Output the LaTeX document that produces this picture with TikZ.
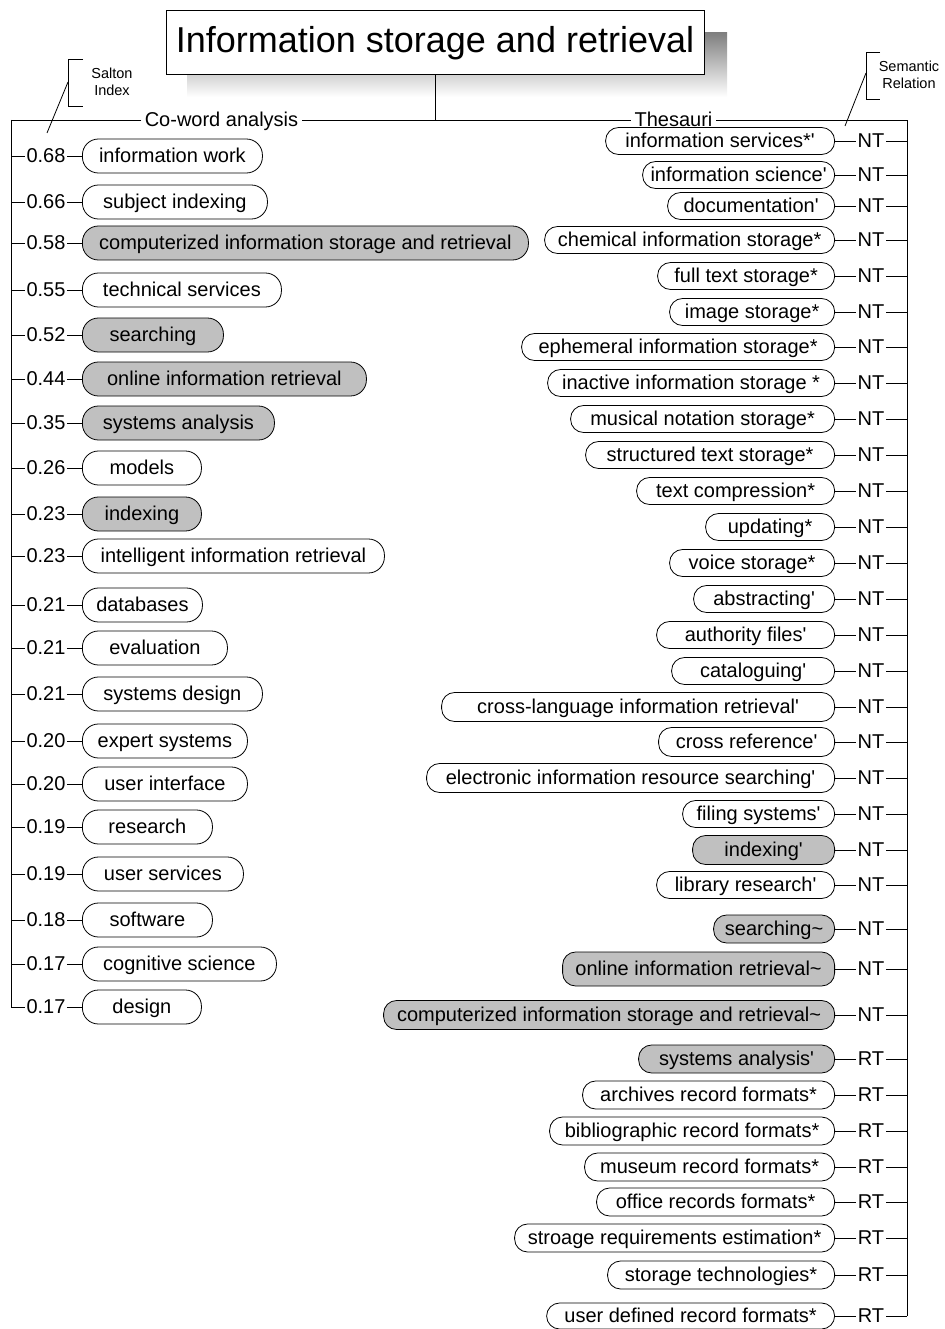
\documentclass[tikz,border=0pt]{standalone}
\usepackage{fontspec}
\newfontfamily\lib{Liberation Sans}
\definecolor{shade}{HTML}{C0C0C0}
\begin{document}
\begin{tikzpicture}[x=1pt,y=-1pt, line width=0.8pt,
  txt/.style={font=\lib\fontsize{20}{24}\selectfont, text height=14.5pt, text depth=1pt},
  lpill/.style={txt, draw, rounded corners=16pt, anchor=west, inner sep=0pt},
  rpill/.style={txt, draw, rounded corners=13pt, anchor=east, inner sep=0pt},
  numlab/.style={txt, inner sep=1pt},
  rellab/.style={txt, inner sep=1.5pt},
  headlab/.style={txt, inner sep=3pt},
  note/.style={align=center, inner sep=0pt, font=\lib\fontsize{14.5}{17}\selectfont}]
\useasboundingbox (0,0) rectangle (944,1329);
% title with shadow
\fill[shade] (187,33) rectangle (727,97);
\node[draw, fill=white, minimum width=538pt, minimum height=64pt, inner sep=0pt,
      text height=26pt, text depth=5pt,
      font=\lib\fontsize{36}{40}\selectfont] (title) at (435,42.5) {Information storage and retrieval};
% branch heads
\node[headlab] (cw) at (221.5,120) {Co-word analysis};
\node[headlab] (th) at (673.5,120) {Thesauri};
\coordinate (J) at (435,120);
\coordinate (LT) at (11,120);
\coordinate (RT) at (907,120);
\draw (title.south) -- (J) -- (cw.east);
\draw (cw.west) -- (LT);
\draw (J) -- (th.west);
% callouts
\draw (83,59) -- (68,59) -- (68,106) -- (83,106);
\draw (68,82) -- (47,133);
\node[note] (salton) at (112,81.5) {Salton\\Index};
\draw (880,52) -- (866,52) -- (866,99) -- (880,99);
\draw (866,73) -- (845,126);
\node[note] (semrel) at (909,75) {Semantic\\Relation};
% left list
\foreach \n/\y/\rx/\v/\tx/\fc in {
  1/156/262/0.68/information work/white,
  2/202/267/0.66/subject indexing/white,
  3/243/528/0.58/computerized information storage and retrieval/shade,
  4/290/281/0.55/technical services/white,
  5/335/223/0.52/searching/shade,
  6/379/366/0.44/online information retrieval/shade,
  7/423/274/0.35/systems analysis/shade,
  8/468/201/0.26/models/white,
  9/514/201/0.23/indexing/shade,
  10/556/384/0.23/intelligent information retrieval/white,
  11/605/202/0.21/databases/white,
  12/648/227/0.21/evaluation/white,
  13/694/262/0.21/systems design/white,
  14/741/247/0.20/expert systems/white,
  15/784/247/0.20/user interface/white,
  16/827/212/0.19/research/white,
  17/874/243/0.19/user services/white,
  18/920/212/0.18/software/white,
  19/964/276/0.17/cognitive science/white,
  20/1007/201/0.17/design/white}{
  \pgfmathsetmacro\w{\rx-82}
  \node[lpill, fill=\fc, minimum width=\w pt, minimum height=34pt] (L\n) at (82,\y) {\tx};
  \node[numlab] (V\n) at (46,\y) {\v};
  \coordinate (S\n) at (11,\y);
  \draw (S\n) -- (V\n.west);
  \draw (V\n.east) -- (L\n.west);
}
\draw (LT) -- (S20);
% right list
\foreach \n/\y/\lx/\h/\tx/\fc/\k in {
  1/141/606/27/information services*'/white/NT,
  2/175/643/27/information science'/white/NT,
  3/206/668/27/documentation'/white/NT,
  4/240/545/27/chemical information storage*/white/NT,
  5/276/658/27/full text storage*/white/NT,
  6/312/670/27/image storage*/white/NT,
  7/347/522/27/ephemeral information storage*/white/NT,
  8/383/548/27/inactive information storage */white/NT,
  9/419/571/27/musical notation storage*/white/NT,
  10/455/586/27/structured text storage*/white/NT,
  11/491/637/27/text compression*/white/NT,
  12/527/706/27/updating*/white/NT,
  13/563/670/27/voice storage*/white/NT,
  14/599/694/27/abstracting'/white/NT,
  15/635/657/27/authority files'/white/NT,
  16/671/672/27/cataloguing'/white/NT,
  17/707/442/29/cross-language information retrieval'/white/NT,
  18/742/659/29/cross reference'/white/NT,
  19/778/427/29/electronic information resource searching'/white/NT,
  20/814/683/27/filing systems'/white/NT,
  21/850/693/29/indexing'/shade/NT,
  22/885/657/27/library research'/white/NT,
  23/929/714/28/searching\textasciitilde/shade/NT,
  24/969/563/34/online information retrieval\textasciitilde/shade/NT,
  25/1015/384/29/computerized information storage and retrieval\textasciitilde/shade/NT,
  26/1059/639/28/systems analysis'/shade/RT,
  27/1095/583/28/archives record formats*/white/RT,
  28/1131/550/28/bibliographic record formats*/white/RT,
  29/1167/585/28/museum record formats*/white/RT,
  30/1202/597/28/office records formats*/white/RT,
  31/1238/515/28/stroage requirements estimation*/white/RT,
  32/1275/608/28/storage technologies*/white/RT,
  33/1316/547/26/user defined record formats*/white/RT}{
  \pgfmathsetmacro\w{835-\lx}
  \node[rpill, fill=\fc, minimum width=\w pt, minimum height=\h pt] (R\n) at (835,\y) {\tx};
  \node[rellab] (N\n) at (871,\y) {\k};
  \coordinate (P\n) at (907,\y);
  \draw (R\n.east) -- (N\n.west);
  \draw (N\n.east) -- (P\n);
}
\draw (th.east) -- (RT) -- (P33);
\end{tikzpicture}
\end{document}
